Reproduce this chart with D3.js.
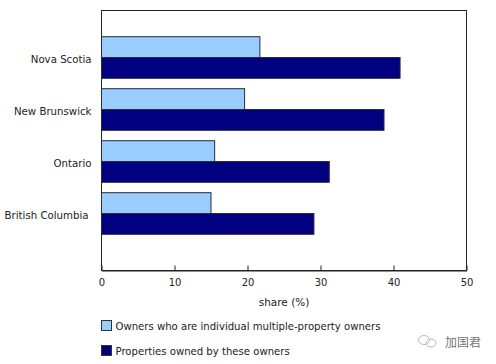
<!DOCTYPE html>
<html>
<head>
<meta charset="utf-8">
<script src="https://cdn.jsdelivr.net/npm/d3@7"></script>
<style>
    html, body { margin: 0; padding: 0; background: #fff; }
    text { font-family: "DejaVu Sans", sans-serif; fill: #222; }
</style>
</head>
<body>
<div id="chart"></div>
<script>
// chart data
let provinces = ["Nova Scotia", "New Brunswick", "Ontario", "British Columbia"];
let ownerShare = [21.7, 19.6, 15.5, 15.0];
let propertyShare = [40.9, 38.7, 31.2, 29.1];
let xTicks = [0, 10, 20, 30, 40, 50];
let seriesNames = ["Owners who are individual multiple-property owners", "Properties owned by these owners"];
let seriesColors = ["#99ccff", "#000080"];
let axisTitle = "share (%)";
let watermark = "加国君";

let svgWidth = 496;
let svgHeight = 364;

let margin = { top: 10.5, right: 29.5, bottom: 93.5, left: 101.5 };
let width = svgWidth - margin.left - margin.right;
let height = svgHeight - margin.top - margin.bottom;

let svg = d3.select("#chart")
    .append("svg")
    .attr("width", svgWidth)
    .attr("height", svgHeight)
    .style("display", "block");

let chartGroup = svg.append("g")
    .attr("transform", `translate(${margin.left}, ${margin.top})`);

let xScale = d3.scaleLinear().domain([0, 50]).range([0, width]);

// bands do not fill the frame, there is more room under the last one
let yScale = d3.scaleBand().domain(provinces).range([21, 229]);
let barHeight = 20.8;

// frame
chartGroup.append("rect")
    .attr("width", width)
    .attr("height", height)
    .attr("fill", "#fff")
    .attr("stroke", "#222")
    .attr("stroke-width", 1);

// one group per province, light bar on top and dark bar under it
[ownerShare, propertyShare].forEach((values, s) => {
    chartGroup.append("g")
        .selectAll("rect")
        .data(values)
        .enter()
        .append("rect")
        .attr("x", 0)
        .attr("y", (d, i) => yScale(provinces[i]) + yScale.bandwidth() / 2 - barHeight + s * barHeight)
        .attr("width", d => xScale(d))
        .attr("height", barHeight)
        .attr("fill", seriesColors[s])
        .attr("stroke", "#2a2a3a")
        .attr("stroke-width", 1);
});

// x axis, ticks point up into the plot
let bottomAxis = d3.axisBottom(xScale)
    .tickValues(xTicks)
    .tickSizeInner(-5)
    .tickSizeOuter(0)
    .tickPadding(8);

let xAxis = chartGroup.append("g")
    .attr("transform", `translate(0, ${height})`)
    .call(bottomAxis);
xAxis.select(".domain").attr("stroke", "#222");
xAxis.selectAll("line").attr("stroke", "#222");
xAxis.selectAll("text").style("font-size", "10px");

// y labels, the frame already draws the axis line
let leftAxis = d3.axisLeft(yScale).tickSize(0).tickPadding(10);
let yAxis = chartGroup.append("g").call(leftAxis);
yAxis.select(".domain").remove();
yAxis.selectAll("text")
    .attr("dy", "0.57em")
    .attr("dx", d => d === "British Columbia" ? -3 : 0)
    .style("font-size", "10.2px");

chartGroup.append("text")
    .attr("x", width / 2)
    .attr("y", 295)
    .attr("text-anchor", "middle")
    .style("font-size", "10.5px")
    .text(axisTitle);

// legend
let legend = svg.append("g").selectAll("g")
    .data(seriesNames)
    .enter()
    .append("g")
    .attr("transform", (d, i) => `translate(101.5, ${320.5 + i * 25})`);

legend.append("rect")
    .attr("width", 10)
    .attr("height", 10)
    .attr("fill", (d, i) => seriesColors[i])
    .attr("stroke", "#333");

legend.append("text")
    .attr("x", 14)
    .attr("y", 9)
    .style("font-size", "10.1px")
    .text(d => d);

// watermark in the corner
let mark = svg.append("g").attr("fill", "none").attr("stroke", "#bbb");
mark.append("ellipse").attr("cx", 424).attr("cy", 340).attr("rx", 5.5).attr("ry", 4.5);
mark.append("ellipse").attr("cx", 431).attr("cy", 343).attr("rx", 5).attr("ry", 4);

svg.append("text")
    .attr("x", 445)
    .attr("y", 347)
    .style("font-family", "'Noto Sans CJK SC'")
    .style("font-size", "12px")
    .style("fill", "#777")
    .text(watermark);
</script>
</body>
</html>
